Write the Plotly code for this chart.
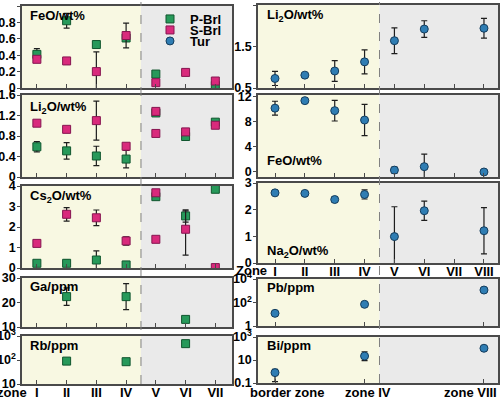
import plotly.graph_objects as go

W, H = 500, 398

# ---------------- data ----------------
zones_left = [1, 2, 3, 4, 5, 6, 7]
zone_labels_left = ["I", "II", "III", "IV", "V", "VI", "VII"]
zones_right = [1, 2, 3, 4, 5, 6, 7, 8]
zone_labels_right = ["I", "II", "III", "IV", "V", "VI", "VII", "VIII"]
zones_trace = [1, 4, 8]

# left column: beryl
feo_pbrl_x = [1, 2, 3, 4, 5, 7]
feo_pbrl = [0.41, 0.82, 0.53, 0.61, 0.17, 0.03]
feo_pbrl_err = [0.07, 0.09, 0, 0, 0, 0]
feo_sbrl_x = [1, 2, 3, 4, 5, 6, 7]
feo_sbrl = [0.35, 0.33, 0.20, 0.64, 0.065, 0.19, 0.085]
feo_sbrl_err = [0.02, 0.04, 0.24, 0.15, 0, 0, 0]

li2o_pbrl_x = [1, 2, 3, 4, 5, 6, 7]
li2o_pbrl = [0.59, 0.51, 0.41, 0.35, 1.25, 0.79, 1.07]
li2o_pbrl_err = [0.10, 0.16, 0.19, 0.17, 0, 0, 0]
li2o_sbrl_x = [1, 2, 3, 4, 5, 5, 6, 7]
li2o_sbrl = [1.05, 0.93, 1.10, 0.60, 1.28, 0.85, 0.88, 1.01]
li2o_sbrl_err = [0.02, 0.05, 0.38, 0.04, 0, 0, 0.03, 0]

cs2o_pbrl_x = [1, 2, 3, 4, 5, 6, 7]
cs2o_pbrl = [0.23, 0.23, 0.39, 0.15, 3.48, 2.54, 3.84]
cs2o_pbrl_err = [0.10, 0.15, 0.45, 0, 0, 0.30, 0]
cs2o_sbrl_x = [1, 2, 3, 4, 5, 5, 6, 7]
cs2o_sbrl = [1.20, 2.62, 2.45, 1.32, 3.67, 1.40, 1.89, 0.02]
cs2o_sbrl_err_up = [0, 0.33, 0.38, 0.20, 0, 0, 0.90, 0]
cs2o_sbrl_err_dn = [0, 0.33, 0.38, 0.20, 0, 0, 1.26, 0]

ga_pbrl_x = [2, 4, 6]
ga_pbrl = [22.4, 22.4, 13.1]
ga_pbrl_err = [3.6, 5.3, 1.0]

rb_pbrl_x = [2, 4, 6]
rb_pbrl = [90, 85, 480]
rb_pbrl_err = [0, 20, 0]

# right column: tourmaline
li2o_tur_x = [1, 2, 3, 4, 5, 6, 8]
li2o_tur = [0.73, 0.81, 0.91, 1.13, 1.64, 1.92, 1.94]
li2o_tur_err = [0.17, 0.03, 0.25, 0.29, 0.31, 0.20, 0.24]

feo_tur_x = [1, 2, 3, 4, 5, 6, 8]
feo_tur = [10.2, 11.4, 9.8, 8.3, 0.3, 0.85, 0.0]
feo_tur_err = [1.1, 0, 1.65, 2.5, 0.5, 2.0, 0]

na2o_tur_x = [1, 2, 3, 4, 5, 6, 8]
na2o_tur = [2.63, 2.61, 2.38, 2.57, 0.99, 1.96, 1.21]
na2o_tur_err = [0, 0, 0.10, 0.17, 1.12, 0.36, 0.87]

pb_tur_x = [1, 4, 8]
pb_tur = [12, 70, 1150]

bi_tur_x = [1, 4, 8]
bi_tur = [0.8, 22, 105]
bi_tur_err_up = [0.76, 30, 0]
bi_tur_err_dn = [0.67, 13, 0]

# ---------------- styles ----------------
FONT = "Liberation Sans, Arial, sans-serif"
TICK_SIZE = 12.5
C_P = dict(fill="#27995a", line="#10562e")
C_S = dict(fill="#d92a7c", line="#861550")
C_T = dict(fill="#2f7db3", line="#143c5c")
YELLOW = "#f8f8e2"
GRAY = "#eaeaea"
FRAME = "#4a4a4a"


def px_x(p):
    return p / W


def px_y(p):
    return 1 - p / H


LEFT_DOM = [px_x(22), px_x(232)]
RIGHT_DOM = [px_x(258), px_x(498)]
LEFT_XR = [0.5, 7.56]
RIGHT_XR = [0.43, 8.47]

panels = [
    dict(n=1, col="L", ypx=(6, 88), yr=[0, 1.0], log=False,
         tv=[0, 0.2, 0.4, 0.6, 0.8, 1.0], tt=["0", "0.2", "0.4", "0.6", "0.8", "1.0"],
         label="FeO/wt%", lpos=(28, 16)),
    dict(n=2, col="L", ypx=(95, 177), yr=[0, 1.6], log=False,
         tv=[0, 0.4, 0.8, 1.2, 1.6], tt=["0", "0.4", "0.8", "1.2", "1.6"],
         label="Li<sub>2</sub>O/wt%", lpos=(28, 107)),
    dict(n=3, col="L", ypx=(186, 268), yr=[0, 4], log=False,
         tv=[0, 1, 2, 3, 4], tt=["0", "1", "2", "3", "4"],
         label="Cs<sub>2</sub>O/wt%", lpos=(28, 196)),
    dict(n=4, col="L", ypx=(278, 327), yr=[10, 30], log=False,
         tv=[10, 20, 30], tt=["10", "20", "30"],
         label="Ga/ppm", lpos=(28, 286)),
    dict(n=5, col="L", ypx=(336, 384), yr=[1, 3], log=True,
         tv=[10, 100, 1000], tt=["10", "10<sup>2</sup>", "10<sup>3</sup>"],
         label="Rb/ppm", lpos=(28, 345)),
    dict(n=6, col="R", ypx=(5, 88), yr=[0.5, 2.5], log=False,
         tv=[0.5, 1.5, 2.5], tt=["0.5", "1.5", "2.5"],
         label="Li<sub>2</sub>O/wt%", lpos=(265, 16)),
    dict(n=7, col="R", ypx=(95, 177), yr=[-0.8, 12.3], log=False,
         tv=[0, 4, 8, 12], tt=["0", "4", "8", "12"],
         label="FeO/wt%", lpos=(265, 161)),
    dict(n=8, col="R", ypx=(183, 263), yr=[0, 3], log=False,
         tv=[0, 1, 2, 3], tt=["0", "1", "2", "3"],
         label="Na<sub>2</sub>O/wt%", lpos=(265, 251)),
    dict(n=9, col="R", ypx=(279, 326), yr=[0, 4], log=True,
         tv=[1, 100, 10000], tt=["1", "10<sup>2</sup>", "10<sup>4</sup>"],
         label="Pb/ppm", lpos=(265, 287)),
    dict(n=10, col="R", ypx=(337, 383), yr=[-1, 3], log=True,
         tv=[0.1, 10, 1000], tt=["0.1", "10", "10<sup>3</sup>"],
         label="Bi/ppm", lpos=(265, 345)),
]

fig = go.Figure()
layout = dict(
    width=W, height=H, margin=dict(l=0, r=0, t=0, b=0),
    paper_bgcolor="white", plot_bgcolor="rgba(0,0,0,0)",
    font=dict(family=FONT, size=13, color="black"),
    showlegend=True,
)
shapes = []
annotations = []

for p in panels:
    n = p["n"]
    sfx = "" if n == 1 else str(n)
    left = p["col"] == "L"
    xr = LEFT_XR if left else RIGHT_XR
    if left:
        xtv = zones_left
        xtt = zone_labels_left
        show_xl = n == 5
    else:
        if n in (9, 10):
            xtv = zones_trace
            xtt = None
            show_xl = False
        else:
            xtv = zones_right
            xtt = zone_labels_right
            show_xl = n == 8
    xa = dict(
        domain=LEFT_DOM if left else RIGHT_DOM, range=xr, anchor="y" + sfx,
        showline=True, mirror=True, linecolor=FRAME, linewidth=1.5,
        showgrid=False, zeroline=False, ticks="inside", ticklen=4, tickwidth=1,
        tickcolor=FRAME, tickvals=xtv, showticklabels=show_xl,
        tickfont=dict(family=FONT, size=13, weight="bold", color="black"),
        ticklabelstandoff=-4,
        automargin=False, fixedrange=True,
    )
    if xtt is not None:
        xa["ticktext"] = xtt
    layout["xaxis" + sfx] = xa
    layout["yaxis" + sfx] = dict(
        domain=[px_y(p["ypx"][1]), px_y(p["ypx"][0])], range=p["yr"],
        type="log" if p["log"] else "linear", anchor="x" + sfx,
        showline=True, mirror=True, linecolor=FRAME, linewidth=1.5,
        showgrid=False, zeroline=False, ticks="outside", ticklen=3, tickwidth=1,
        tickcolor=FRAME, tickvals=p["tv"], ticktext=p["tt"],
        tickfont=dict(family=FONT, size=TICK_SIZE, weight="bold", color="black"),
        ticklabelstandoff=-1,
        automargin=False, fixedrange=True,
    )
    xref = "x" + sfx
    ydom = "y" + sfx + " domain"
    shapes.append(dict(type="rect", xref=xref, yref=ydom, x0=xr[0], x1=4.5, y0=0, y1=1,
                       fillcolor=YELLOW, line=dict(width=0), layer="below"))
    shapes.append(dict(type="rect", xref=xref, yref=ydom, x0=4.5, x1=xr[1], y0=0, y1=1,
                       fillcolor=GRAY, line=dict(width=0), layer="below"))
    annotations.append(dict(text="<b>" + p["label"] + "</b>", xref="paper", yref="paper",
                            x=px_x(p["lpos"][0]), y=px_y(p["lpos"][1]),
                            xanchor="left", yanchor="middle", showarrow=False,
                            font=dict(family=FONT, size=13, color="black")))

# dashed divider lines through each column
shapes.append(dict(type="line", xref="x5", yref="paper", x0=4.5, x1=4.5,
                   y0=px_y(384), y1=px_y(2), line=dict(color="#808080", width=1, dash="dash"),
                   layer="above"))
shapes.append(dict(type="line", xref="x10", yref="paper", x0=4.5, x1=4.5,
                   y0=px_y(383), y1=px_y(2), line=dict(color="#808080", width=1, dash="dash"),
                   layer="above"))

# x-axis text labels
annotations.append(dict(text="<b>zone</b>", xref="paper", yref="paper", x=px_x(29), y=px_y(392),
                        xanchor="right", yanchor="middle", showarrow=False,
                        font=dict(family=FONT, size=13, color="black")))
annotations.append(dict(text="<b>Zone</b>", xref="paper", yref="paper", x=px_x(269), y=px_y(270),
                        xanchor="right", yanchor="middle", showarrow=False,
                        font=dict(family=FONT, size=13, color="black")))
for txt, xc in [("border zone", 287), ("zone IV", 368), ("zone VIII", 470)]:
    annotations.append(dict(text="<b>" + txt + "</b>", xref="paper", yref="paper",
                            x=px_x(xc), y=px_y(392), xanchor="center", yanchor="middle",
                            showarrow=False, font=dict(family=FONT, size=13, color="black")))


def add(n, x, y, err_up, err_dn, color, symbol, name, legend, show):
    sfx = "" if n == 1 else str(n)
    ey = None
    if err_up is not None:
        ey = dict(type="data", array=err_up, arrayminus=err_dn if err_dn is not None else err_up,
                  symmetric=err_dn is None, color="#1e1e1e", thickness=1.2, width=3, visible=True)
    fig.add_trace(go.Scatter(
        x=x, y=y, mode="markers", name=name, legend=legend, showlegend=show,
        xaxis="x" + sfx, yaxis="y" + sfx, error_y=ey,
        marker=dict(symbol=symbol, size=8, color=color["fill"],
                    line=dict(color=color["line"], width=1)),
        hoverinfo="x+y",
    ))


add(1, feo_pbrl_x, feo_pbrl, feo_pbrl_err, None, C_P, "square", "P-Brl", "legend", True)
add(1, feo_sbrl_x, feo_sbrl, feo_sbrl_err, None, C_S, "square", "S-Brl", "legend2", True)
add(2, li2o_pbrl_x, li2o_pbrl, li2o_pbrl_err, None, C_P, "square", "P-Brl", "legend", False)
add(2, li2o_sbrl_x, li2o_sbrl, li2o_sbrl_err, None, C_S, "square", "S-Brl", "legend2", False)
add(3, cs2o_pbrl_x, cs2o_pbrl, cs2o_pbrl_err, None, C_P, "square", "P-Brl", "legend", False)
add(3, cs2o_sbrl_x, cs2o_sbrl, cs2o_sbrl_err_up, cs2o_sbrl_err_dn, C_S, "square", "S-Brl", "legend2", False)
add(4, ga_pbrl_x, ga_pbrl, ga_pbrl_err, None, C_P, "square", "P-Brl", "legend", False)
add(5, rb_pbrl_x, rb_pbrl, rb_pbrl_err, None, C_P, "square", "P-Brl", "legend", False)
add(6, li2o_tur_x, li2o_tur, li2o_tur_err, None, C_T, "circle", "Tur", "legend3", True)
add(7, feo_tur_x, feo_tur, feo_tur_err, None, C_T, "circle", "Tur", "legend3", False)
add(8, na2o_tur_x, na2o_tur, na2o_tur_err, None, C_T, "circle", "Tur", "legend3", False)
add(9, pb_tur_x, pb_tur, None, None, C_T, "circle", "Tur", "legend3", False)
add(10, bi_tur_x, bi_tur, bi_tur_err_up, bi_tur_err_dn, C_T, "circle", "Tur", "legend3", False)

leg_common = dict(bgcolor="rgba(0,0,0,0)", borderwidth=0, xanchor="left", yanchor="middle",
                  font=dict(family=FONT, size=13, weight="bold", color="black"),
                  itemwidth=30)
layout["legend"] = dict(x=px_x(150), y=px_y(19), **leg_common)
layout["legend2"] = dict(x=px_x(150), y=px_y(30), **leg_common)
layout["legend3"] = dict(x=px_x(150), y=px_y(41), **leg_common)

layout["shapes"] = shapes
layout["annotations"] = annotations
fig.update_layout(**layout)

fig.write_html("out.html", config={"displayModeBar": False},
               post_script="document.body.style.margin='0';document.body.style.overflow='hidden';")
